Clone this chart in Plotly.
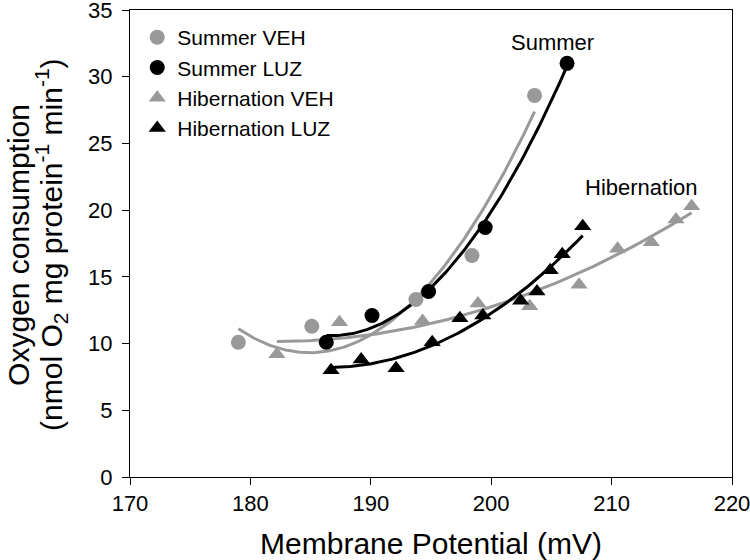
import numpy as np
import plotly.graph_objects as go

# Data
summer_veh_x = [179.0, 185.1, 193.75, 198.4, 203.6]
summer_veh_y = [10.1, 11.3, 13.3, 16.6, 28.6]

summer_luz_x = [186.3, 190.1, 194.8, 199.5, 206.3]
summer_luz_y = [10.1, 12.1, 13.9, 18.7, 31.0]

hib_veh_x = [182.2, 187.4, 194.3, 198.9, 203.2, 207.3, 210.5, 213.3, 215.35, 216.65]
hib_veh_y = [9.2, 11.6, 11.7, 13.0, 12.8, 14.4, 17.1, 17.6, 19.3, 20.3]

hib_luz_x = [186.7, 189.2, 192.1, 195.1, 197.4, 199.3, 202.45, 203.8, 204.9, 205.9, 207.6]
hib_luz_y = [8.0, 8.8, 8.15, 10.1, 11.9, 12.1, 13.2, 13.9, 15.5, 16.7, 18.8]

y_title_lines = ["Oxygen consumption",
                 "(nmol O<sub>2</sub> mg protein<sup>-1</sup> min<sup>-1</sup>)"]

GRAY = "#999999"
BLACK = "#000000"
FONT = "Liberation Sans, Arial, sans-serif"

series = [
    ("Summer VEH", summer_veh_x, summer_veh_y, GRAY, "circle", 2),
    ("Summer LUZ", summer_luz_x, summer_luz_y, BLACK, "circle", 2),
    ("Hibernation VEH", hib_veh_x, hib_veh_y, GRAY, "triangle-up", 2),
    ("Hibernation LUZ", hib_luz_x, hib_luz_y, BLACK, "triangle-up", 2),
]

fig = go.Figure()

# polynomial trendlines fitted to each series
for name, xs, ys, col, sym, deg in series:
    c = np.polyfit(xs, ys, deg)
    xf = np.linspace(min(xs), max(xs), 120)
    fig.add_trace(go.Scatter(x=xf, y=np.polyval(c, xf), mode="lines",
                             line=dict(color=col, width=3), showlegend=False,
                             hoverinfo="skip"))

for name, xs, ys, col, sym, deg in series:
    fig.add_trace(go.Scatter(x=xs, y=ys, mode="markers", name=name,
                             marker=dict(color=col, symbol=sym, size=15,
                                         line=dict(width=0))))

fig.add_annotation(x=205.1, y=32.6, text="Summer", showarrow=False,
                   font=dict(size=22, color="black", family=FONT))
fig.add_annotation(x=212.5, y=21.7, text="Hibernation", showarrow=False,
                   font=dict(size=22, color="black", family=FONT))

# y-axis title as two rotated lines
for xp, txt in zip([-0.1844, -0.1312], y_title_lines):
    fig.add_annotation(xref="paper", yref="paper", x=xp, y=0.497,
                       xanchor="center", yanchor="middle", text=txt,
                       textangle=-90, showarrow=False,
                       font=dict(size=30, color="black", family=FONT))

fig.update_layout(
    width=750, height=560,
    margin=dict(l=130, r=18, t=10, b=83),
    plot_bgcolor="white", paper_bgcolor="white",
    font=dict(family=FONT, color="black"),
    showlegend=True,
    legend=dict(x=0.012, y=0.985, xanchor="left", yanchor="top",
                font=dict(size=21, family=FONT), bgcolor="rgba(0,0,0,0)",
                itemwidth=30, tracegroupgap=0),
    xaxis=dict(range=[170, 220], dtick=10, tick0=170, showgrid=False,
               zeroline=False, showline=True, linecolor="black", linewidth=1,
               mirror=True, ticks="outside", ticklen=7, tickcolor="black",
               tickfont=dict(size=22), ticklabeloverflow="allow",
               automargin=False,
               title=dict(text="Membrane Potential (mV)", font=dict(size=30),
                          standoff=18)),
    yaxis=dict(range=[0, 35], dtick=5, showgrid=False, zeroline=False,
               showline=True, linecolor="black", linewidth=1, mirror=True,
               ticks="outside", ticklen=7, tickcolor="black",
               tickfont=dict(size=22), ticklabelstandoff=5,
               ticklabeloverflow="allow", automargin=False),
)

fig.write_html("out.html", config={"displayModeBar": False},
               post_script="document.body.style.margin='0';document.body.style.overflow='hidden';")
